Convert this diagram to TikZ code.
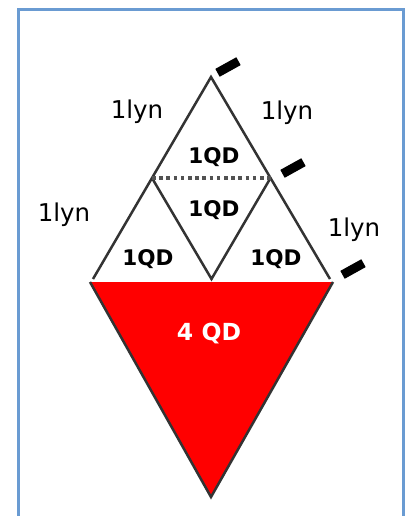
\documentclass[tikz,border=0pt]{standalone}
\usepackage{fontspec}
\setmainfont{DejaVu Sans}
\usetikzlibrary{calc}
\definecolor{framec}{HTML}{6A9BD2}
\definecolor{linec}{HTML}{333333}
\definecolor{qdred}{HTML}{FF0000}
\begin{document}
\begin{tikzpicture}[x=1pt,y=-1pt,
  tri/.style={draw=linec,line width=2.5pt,line join=miter},
  lyn/.style={font=\fontsize{24.5}{26}\selectfont,inner sep=0pt},
  qd/.style={font=\bfseries\fontsize{21.5}{24}\selectfont,inner sep=0pt},
  qdw/.style={font=\bfseries\fontsize{23.5}{26}\selectfont,inner sep=0pt,text=white},
  tickmark/.style={fill=black,minimum width=24pt,minimum height=9pt,inner sep=0pt,rotate=29},
  framel/.style={draw=framec,line width=2.4pt}]
\useasboundingbox (0,0) rectangle (405,516);
% frame
\draw[framel] (18.4,516) -- (18.4,9.6) -- (403.4,9.6) -- (403.4,516);
% coordinates
\coordinate (A) at (211,77);
\coordinate (BL) at (93,279);
\coordinate (BR) at (330,279);
\coordinate (M) at (211.5,279);
\coordinate (LM) at ($ (A)!0.5!(BL) $);
\coordinate (RM) at ($ (A)!0.5!(BR) $);
\coordinate (RL) at (90,282);
\coordinate (RR) at (333,282);
\coordinate (RB) at (211,497);
% red triangle
\fill[qdred] (RL) -- (RR) -- (RB) -- cycle;
\draw[tri] (RL) -- (RB) -- (RR);
% upper triangles
\draw[tri] (BL) -- (A) -- (BR);
\draw[tri] (LM) -- (M) -- (RM);
\draw[draw=linec!85,line width=3.6pt,dash pattern=on 3.6pt off 3.6pt] (LM) -- (RM);
% ticks
\node[tickmark] (t1) at (228,67) {};
\node[tickmark] (t2) at (293,168) {};
\node[tickmark] (t3) at (353,269) {};
% labels
\node[lyn] (l1) at (137,112) {1lyn};
\node[lyn] (l2) at (287,113) {1lyn};
\node[lyn] (l3) at (64,215) {1lyn};
\node[lyn] (l4) at (354,230) {1lyn};
\node[qd] (q1) at (214,157) {1QD};
\node[qd] (q2) at (214,210) {1QD};
\node[qd] (q3) at (148,259) {1QD};
\node[qd] (q4) at (276,259) {1QD};
\node[qdw] (q5) at (209,333) {4 QD};
\end{tikzpicture}
\end{document}
